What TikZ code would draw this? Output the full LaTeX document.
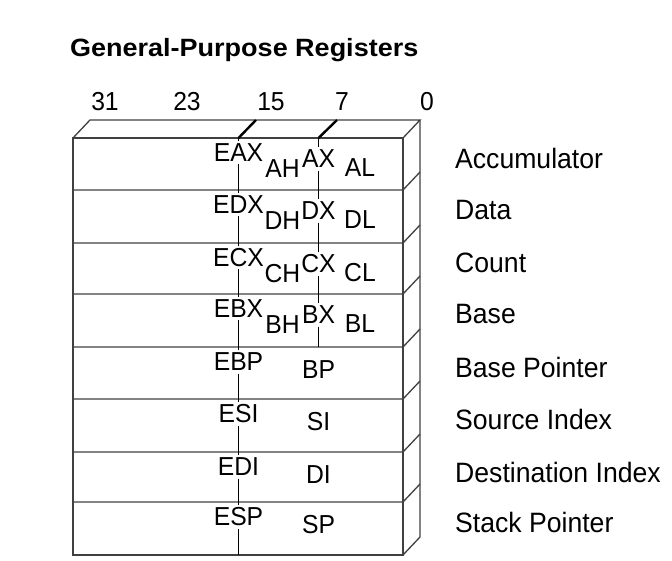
\documentclass[tikz,border=0pt]{standalone}
\usepackage{fontspec}
\setmainfont{Liberation Sans}[FakeStretch=0.95]
\newfontfamily\titlefont{Liberation Sans}[FakeStretch=1.08]
\usetikzlibrary{positioning}
\tikzstyle{boxline}  = [draw=black!75, line width=1.3pt]
\tikzstyle{reg}      = [inner sep=2.5pt, font=\fontsize{26}{30}\selectfont]
\tikzstyle{regname}  = [anchor=west, inner sep=0pt, font=\fontsize{28}{32}\selectfont]
\tikzstyle{bitnum}   = [inner sep=0pt, font=\fontsize{26}{30}\selectfont]
\tikzstyle{leadline} = [draw=black, line width=1.4pt]
\tikzstyle{tickline} = [draw=black, line width=2.4pt]

\begin{document}
\begin{tikzpicture}[x=1pt, y=-1pt]
            \useasboundingbox (0,0) rectangle (672,560);
            \node[anchor=base west, inner sep=0pt, font=\fontsize{25}{30}\titlefont\bfseries] (title) at (70,56) {General-Purpose Registers};
            \node[bitnum] (b31) at (105,102) {31};
            \node[bitnum] (b23) at (187,102) {23};
            \node[bitnum] (b15) at (271,102) {15};
            \node[bitnum] (b7)  at (342,102) {7};
            \node[bitnum] (b0)  at (427,102) {0};

            % box with top and right faces
            \draw[boxline] (73,138) rectangle (403,555);
            \draw[boxline] (73,138) -- (90,120) -- (420,120) -- (403,138);
            \draw[boxline] (420,120) -- (420,537) -- (403,555);
            \foreach \y in {190,243,294,347,399,452,502}
                \draw[boxline] (73,\y) -- (403,\y) -- ++(17,-18);

            \node[reg] (eax) at (238.5,152.5) {EAX};
            \node[reg] (ah)  at (282.5,169)   {AH};
            \node[reg] (ax)  at (318.5,159)   {AX};
            \node[reg] (al)  at (360,168)     {AL};
            \node[reg] (edx) at (238.5,204.5) {EDX};
            \node[reg] (dh)  at (282.5,221)   {DH};
            \node[reg] (dx)  at (318.5,211)   {DX};
            \node[reg] (dl)  at (360,220)     {DL};
            \node[reg] (ecx) at (238.5,257.5) {ECX};
            \node[reg] (ch)  at (282.5,274)   {CH};
            \node[reg] (cx)  at (318.5,264)   {CX};
            \node[reg] (cl)  at (360,273)     {CL};
            \node[reg] (ebx) at (238.5,308.5) {EBX};
            \node[reg] (bh)  at (282.5,325)   {BH};
            \node[reg] (bx)  at (318.5,315)   {BX};
            \node[reg] (bl)  at (360,324)     {BL};
            \node[reg] (ebp) at (238.5,362)   {EBP};
            \node[reg] (bp)  at (318.5,370)   {BP};
            \node[reg] (esi) at (238.5,414)   {ESI};
            \node[reg] (si)  at (318.5,422)   {SI};
            \node[reg] (edi) at (238.5,467)   {EDI};
            \node[reg] (di)  at (318.5,475)   {DI};
            \node[reg] (esp) at (238.5,517)   {ESP};
            \node[reg] (sp)  at (318.5,525)   {SP};

            \node[regname] (acc)   at (455,158) {Accumulator};
            \node[regname] (data)  at (455,210) {Data};
            \node[regname] (count) at (455,263) {Count};
            \node[regname] (base)  at (455,314) {Base};
            \node[regname] (bptr)  at (455,367) {Base Pointer};
            \node[regname] (sidx)  at (455,419) {Source Index};
            \node[regname] (didx)  at (455,472) {Destination Index};
            \node[regname] (sptr)  at (455,522) {Stack Pointer};

            % bit 16 and bit 8 boundaries
            \coordinate (t16) at (256,120);
            \coordinate (f16) at (238.5,138);
            \coordinate (e16) at (238.5,555);
            \coordinate (t8)  at (337,120);
            \coordinate (f8)  at (318.5,138);
            \coordinate (e8)  at (318.5,347);
            \draw[tickline] (t16) -- (f16);
            \draw[tickline] (t8) -- (f8);
            \draw[leadline] (f16) -- (eax) -- (edx) -- (ecx) -- (ebx) -- (ebp) -- (esi) -- (edi) -- (esp) -- (e16);
            \draw[leadline] (f8) -- (ax) -- (dx) -- (cx) -- (bx) -- (e8);
        \end{tikzpicture}
\end{document}
